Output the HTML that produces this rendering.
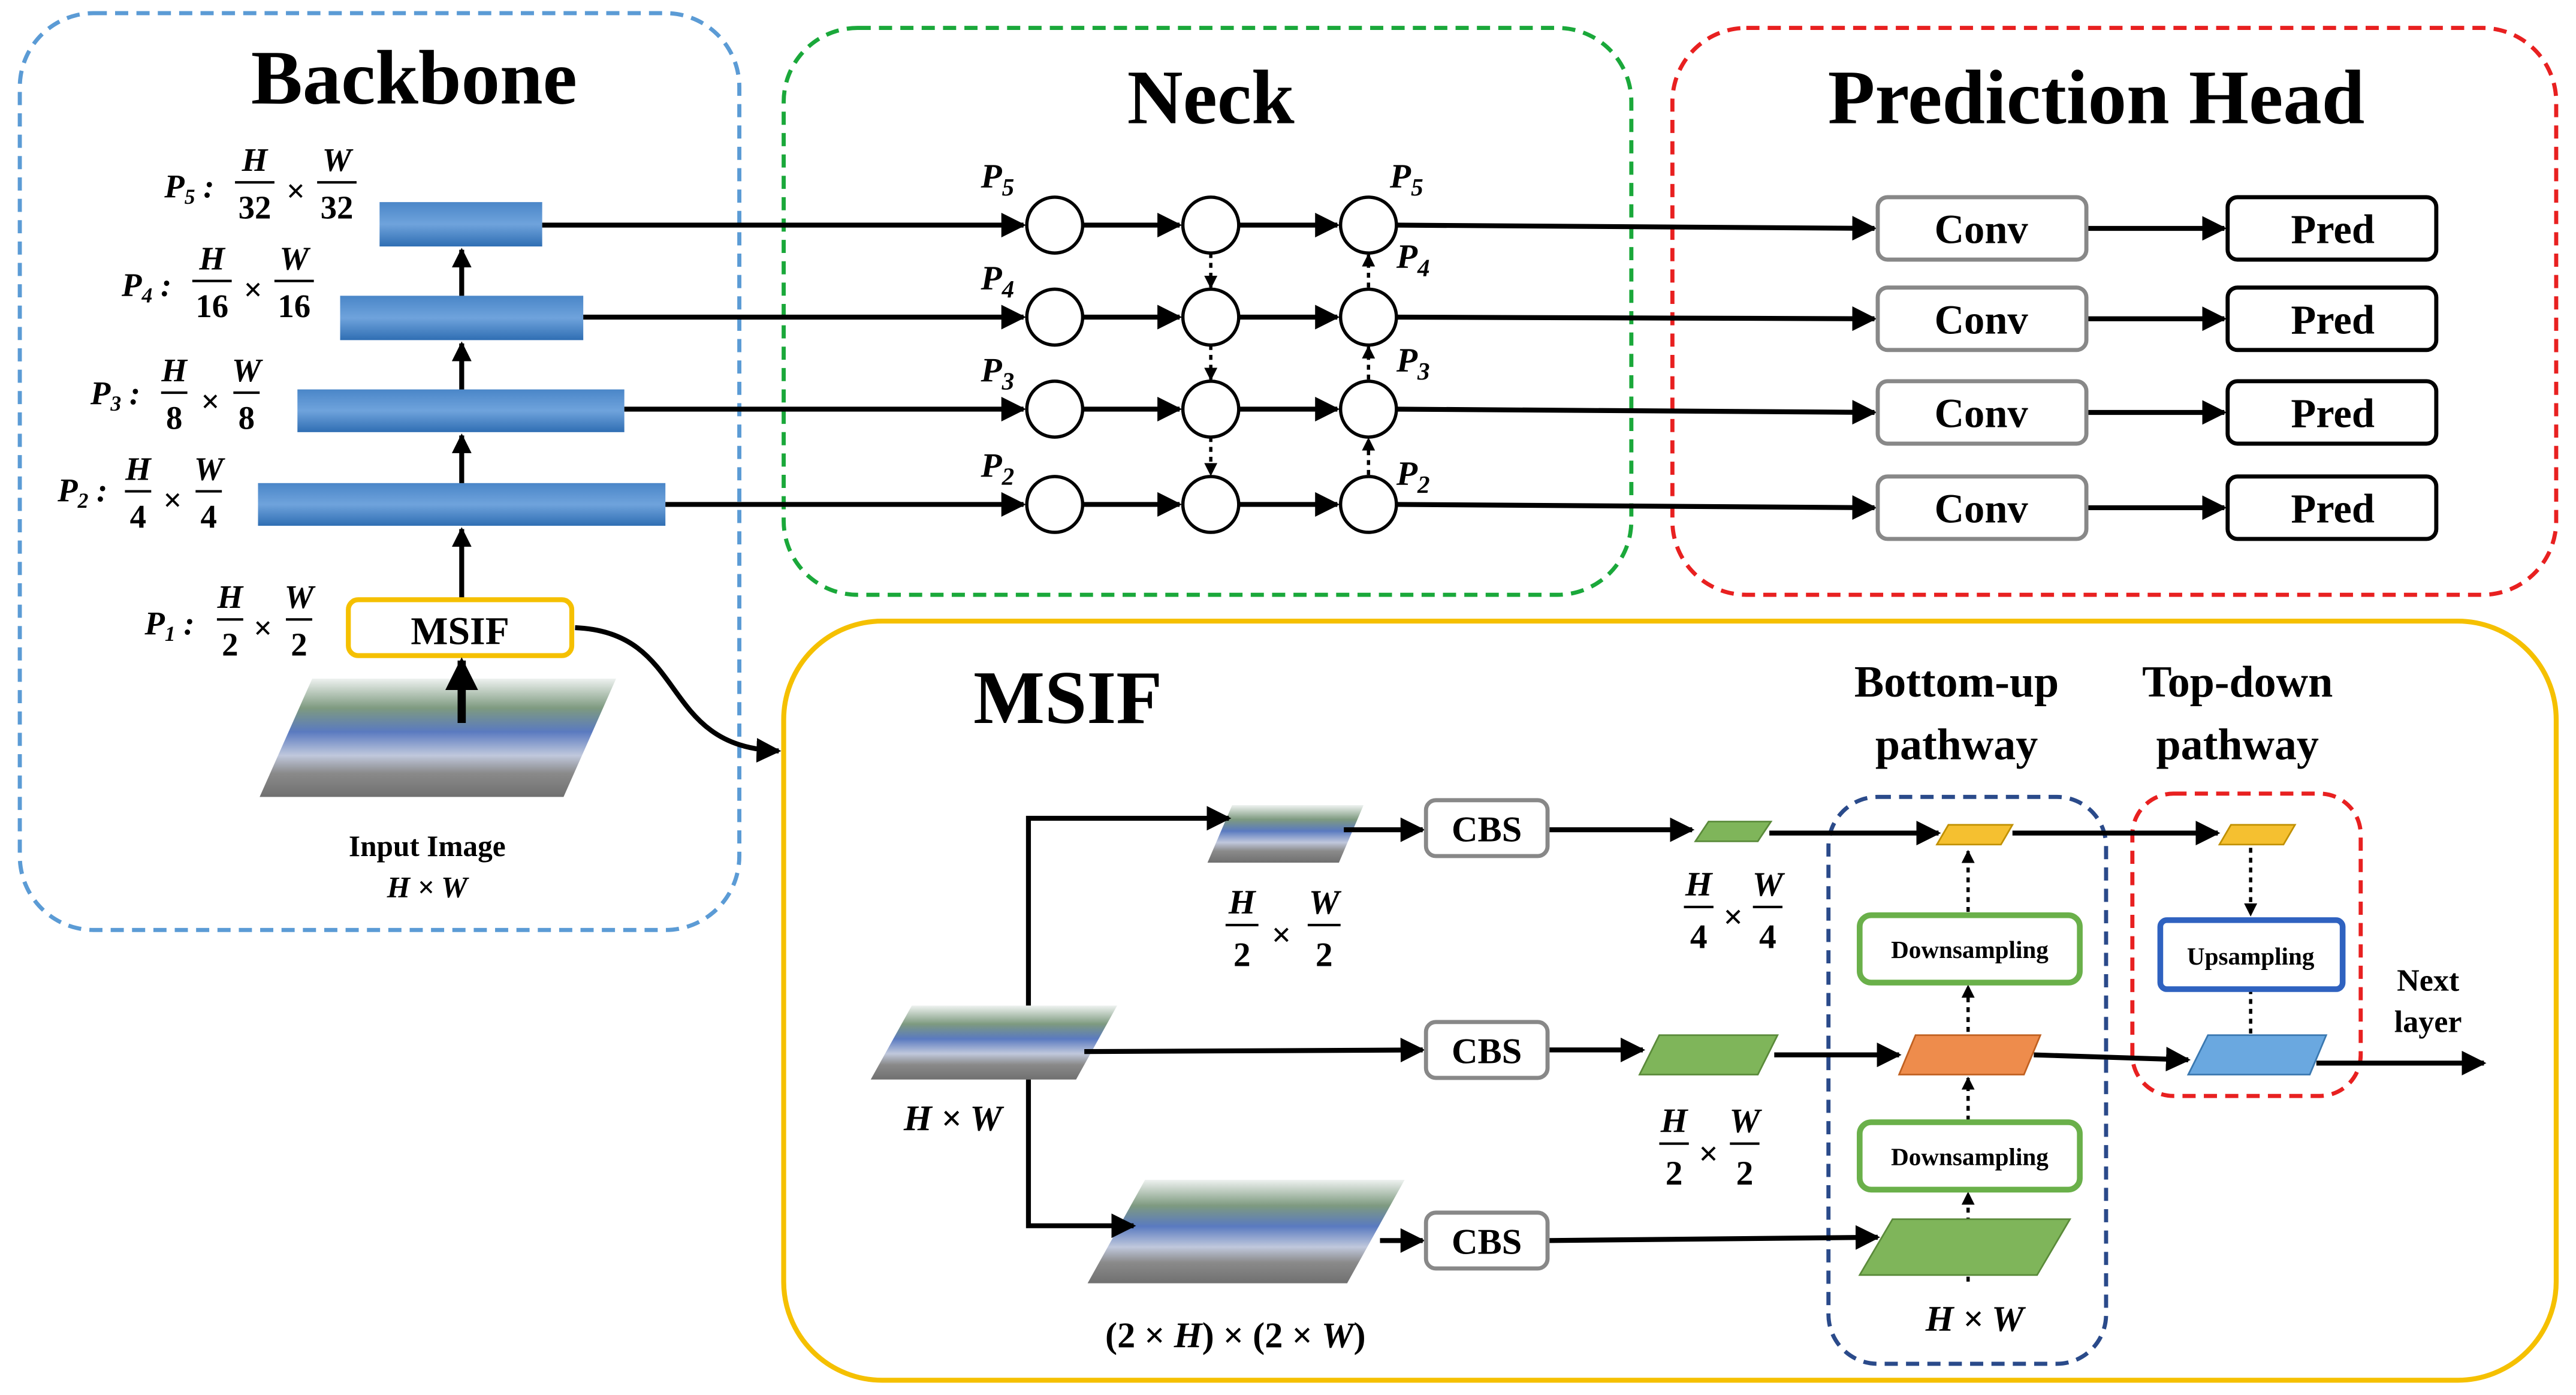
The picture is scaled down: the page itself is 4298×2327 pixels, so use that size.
<!DOCTYPE html>
<html><head><meta charset="utf-8"><style>html,body{margin:0;padding:0;background:#fff}svg{display:block}</style></head><body>
<svg width="4298" height="2327" viewBox="0 0 1568 849" xmlns="http://www.w3.org/2000/svg" font-family="Liberation Serif, serif" font-weight="bold">
<defs>
<marker id="a" viewBox="0 0 10 10" refX="9" refY="5" markerWidth="5" markerHeight="5" orient="auto"><path d="M0,0L10,5L0,10z" fill="#000"/></marker>
<marker id="s" viewBox="0 0 10 10" refX="9" refY="5" markerWidth="4" markerHeight="4" orient="auto"><path d="M0,0L10,5L0,10z" fill="#000"/></marker>
<linearGradient id="bb" x1="0" y1="0" x2="0" y2="1"><stop offset="0" stop-color="#4a86c8"/><stop offset="0.5" stop-color="#6fa3dc"/><stop offset="1" stop-color="#2f6eb3"/></linearGradient>
<linearGradient id="img" x1="0" y1="0" x2="0" y2="1"><stop offset="0" stop-color="#eef2f0"/><stop offset="0.25" stop-color="#7e9a80"/><stop offset="0.45" stop-color="#5a7ac0"/><stop offset="0.65" stop-color="#c0c8dc"/><stop offset="0.8" stop-color="#8a8a8a"/><stop offset="1" stop-color="#707070"/></linearGradient>
</defs>
<g fill="none" stroke-width="2.5" stroke-dasharray="8,5">
<rect x="12" y="8" width="438" height="558" rx="45" stroke="#5b9bd5"/>
<rect x="477" y="17" width="516" height="345" rx="45" stroke="#1aa83a"/>
<rect x="1018" y="17" width="538" height="345" rx="45" stroke="#e82020"/>
</g>
<rect x="477" y="378" width="1079" height="462" rx="60" fill="none" stroke="#f5c000" stroke-width="3"/>
<g font-size="47" text-anchor="middle">
<text x="252" y="63">Backbone</text><text x="737" y="75">Neck</text><text x="1276" y="75">Prediction Head</text>
<text x="650" y="440" font-size="46">MSIF</text>
</g>
<rect x="231" y="123" width="99" height="27" fill="url(#bb)"/>
<rect x="207" y="180" width="148" height="27" fill="url(#bb)"/>
<rect x="181" y="237" width="199" height="26" fill="url(#bb)"/>
<rect x="157" y="294" width="248" height="26" fill="url(#bb)"/>
<g stroke="#000" stroke-width="3" marker-end="url(#s)">
<line x1="281" y1="180" x2="281" y2="152"/><line x1="281" y1="237" x2="281" y2="209"/><line x1="281" y1="294" x2="281" y2="265"/><line x1="281" y1="365" x2="281" y2="322"/>
</g>
<rect x="212" y="365" width="136" height="34" rx="6" fill="#fff" stroke="#f5c000" stroke-width="3"/>
<text x="280" y="392" font-size="24" text-anchor="middle">MSIF</text>
<polygon points="190,413 375,413 343,485 158,485" fill="url(#img)"/>
<line x1="281" y1="440" x2="281" y2="402" stroke="#000" stroke-width="5" marker-end="url(#s)"/>
<text x="260" y="521" font-size="18" text-anchor="middle">Input Image</text>
<text x="260" y="546" font-size="18" text-anchor="middle" font-style="italic">H × W</text>
<path d="M350,382 C420,385 400,455 474,457" fill="none" stroke="#000" stroke-width="3" marker-end="url(#a)"/>
<g font-size="20" font-style="italic">
<text x="100" y="120">P<tspan font-size="13" dy="4">5</tspan><tspan dy="-4"> :</tspan></text>
<text x="74" y="180">P<tspan font-size="13" dy="4">4</tspan><tspan dy="-4"> :</tspan></text>
<text x="55" y="246">P<tspan font-size="13" dy="4">3</tspan><tspan dy="-4"> :</tspan></text>
<text x="35" y="305">P<tspan font-size="13" dy="4">2</tspan><tspan dy="-4"> :</tspan></text>
<text x="88" y="386">P<tspan font-size="13" dy="4">1</tspan><tspan dy="-4"> :</tspan></text>
</g>
<g font-size="20" text-anchor="middle" stroke="none">
<text x="155" y="104" font-style="italic">H</text><text x="155" y="133">32</text><text x="180" y="123">×</text><text x="205" y="104" font-style="italic">W</text><text x="205" y="133">32</text>
<text x="129" y="164" font-style="italic">H</text><text x="129" y="193">16</text><text x="154" y="183">×</text><text x="179" y="164" font-style="italic">W</text><text x="179" y="193">16</text>
<text x="106" y="232" font-style="italic">H</text><text x="106" y="261">8</text><text x="128" y="251">×</text><text x="150" y="232" font-style="italic">W</text><text x="150" y="261">8</text>
<text x="84" y="292" font-style="italic">H</text><text x="84" y="321">4</text><text x="105" y="311">×</text><text x="127" y="292" font-style="italic">W</text><text x="127" y="321">4</text>
<text x="140" y="370" font-style="italic">H</text><text x="140" y="399">2</text><text x="160" y="389">×</text><text x="182" y="370" font-style="italic">W</text><text x="182" y="399">2</text>
</g>
<g stroke="#000" stroke-width="1.5">
<line x1="143" y1="111" x2="167" y2="111"/><line x1="193" y1="111" x2="217" y2="111"/>
<line x1="117" y1="171" x2="141" y2="171"/><line x1="167" y1="171" x2="191" y2="171"/>
<line x1="98" y1="239" x2="114" y2="239"/><line x1="142" y1="239" x2="158" y2="239"/>
<line x1="76" y1="299" x2="92" y2="299"/><line x1="119" y1="299" x2="135" y2="299"/>
<line x1="132" y1="377" x2="148" y2="377"/><line x1="174" y1="377" x2="190" y2="377"/>
</g>
<g stroke="#000" stroke-width="3" fill="none">
<line x1="330" y1="137" x2="623" y2="137" marker-end="url(#a)"/>
<line x1="355" y1="193" x2="623" y2="193" marker-end="url(#a)"/>
<line x1="380" y1="249" x2="623" y2="249" marker-end="url(#a)"/>
<line x1="405" y1="307" x2="623" y2="307" marker-end="url(#a)"/>
<line x1="659" y1="137" x2="718" y2="137" marker-end="url(#a)"/><line x1="754" y1="137" x2="814" y2="137" marker-end="url(#a)"/>
<line x1="659" y1="193" x2="718" y2="193" marker-end="url(#a)"/><line x1="754" y1="193" x2="814" y2="193" marker-end="url(#a)"/>
<line x1="659" y1="249" x2="718" y2="249" marker-end="url(#a)"/><line x1="754" y1="249" x2="814" y2="249" marker-end="url(#a)"/>
<line x1="659" y1="307" x2="718" y2="307" marker-end="url(#a)"/><line x1="754" y1="307" x2="814" y2="307" marker-end="url(#a)"/>
<line x1="850" y1="137" x2="1141" y2="139" marker-end="url(#a)"/>
<line x1="850" y1="193" x2="1141" y2="194" marker-end="url(#a)"/>
<line x1="850" y1="249" x2="1141" y2="251" marker-end="url(#a)"/>
<line x1="850" y1="307" x2="1141" y2="309" marker-end="url(#a)"/>
<g stroke-dasharray="3,3" stroke-width="2">
<line x1="737" y1="154" x2="737" y2="175" marker-end="url(#s)"/><line x1="737" y1="210" x2="737" y2="231" marker-end="url(#s)"/><line x1="737" y1="266" x2="737" y2="289" marker-end="url(#s)"/>
<line x1="833" y1="175" x2="833" y2="155" marker-end="url(#s)"/><line x1="833" y1="231" x2="833" y2="211" marker-end="url(#s)"/><line x1="833" y1="289" x2="833" y2="267" marker-end="url(#s)"/>
</g>
<line x1="1270" y1="139" x2="1354" y2="139" marker-end="url(#a)"/>
<line x1="1270" y1="194" x2="1354" y2="194" marker-end="url(#a)"/>
<line x1="1270" y1="251" x2="1354" y2="251" marker-end="url(#a)"/>
<line x1="1270" y1="309" x2="1354" y2="309" marker-end="url(#a)"/>
</g>
<g fill="#fff" stroke="#000" stroke-width="2">
<circle cx="642" cy="137" r="17"/><circle cx="737" cy="137" r="17"/><circle cx="833" cy="137" r="17"/>
<circle cx="642" cy="193" r="17"/><circle cx="737" cy="193" r="17"/><circle cx="833" cy="193" r="17"/>
<circle cx="642" cy="249" r="17"/><circle cx="737" cy="249" r="17"/><circle cx="833" cy="249" r="17"/>
<circle cx="642" cy="307" r="17"/><circle cx="737" cy="307" r="17"/><circle cx="833" cy="307" r="17"/>
</g>
<g font-size="21" font-style="italic">
<text x="597" y="114">P<tspan font-size="15" dy="5">5</tspan></text><text x="597" y="176">P<tspan font-size="15" dy="5">4</tspan></text>
<text x="597" y="232">P<tspan font-size="15" dy="5">3</tspan></text><text x="597" y="290">P<tspan font-size="15" dy="5">2</tspan></text>
<text x="846" y="114">P<tspan font-size="15" dy="5">5</tspan></text><text x="850" y="163">P<tspan font-size="15" dy="5">4</tspan></text>
<text x="850" y="226">P<tspan font-size="15" dy="5">3</tspan></text><text x="850" y="295">P<tspan font-size="15" dy="5">2</tspan></text>
</g>
<g fill="#fff" stroke-width="2.5">
<rect x="1143" y="120" width="127" height="38" rx="6" stroke="#888"/><rect x="1143" y="175" width="127" height="38" rx="6" stroke="#888"/>
<rect x="1143" y="232" width="127" height="38" rx="6" stroke="#888"/><rect x="1143" y="290" width="127" height="38" rx="6" stroke="#888"/>
<rect x="1356" y="120" width="127" height="38" rx="6" stroke="#000"/><rect x="1356" y="175" width="127" height="38" rx="6" stroke="#000"/>
<rect x="1356" y="232" width="127" height="38" rx="6" stroke="#000"/><rect x="1356" y="290" width="127" height="38" rx="6" stroke="#000"/>
</g>
<g font-size="25" text-anchor="middle">
<text x="1206" y="148">Conv</text><text x="1206" y="203">Conv</text><text x="1206" y="260">Conv</text><text x="1206" y="318">Conv</text>
<text x="1420" y="148">Pred</text><text x="1420" y="203">Pred</text><text x="1420" y="260">Pred</text><text x="1420" y="318">Pred</text>
</g>
<g fill="none" stroke-width="2.5" stroke-dasharray="8,5">
<rect x="1113" y="485" width="169" height="345" rx="30" stroke="#2a4a8a"/>
<rect x="1298" y="483" width="139" height="184" rx="25" stroke="#e82020"/>
</g>
<g font-size="27" text-anchor="middle"><text x="1191" y="424">Bottom-up</text><text x="1191" y="462">pathway</text><text x="1362" y="424">Top-down</text><text x="1362" y="462">pathway</text></g>
<polygon points="750,490 830,490 815,525 735,525" fill="url(#img)"/>
<polygon points="555,612 680,612 655,657 530,657" fill="url(#img)"/>
<polygon points="697,718 855,718 820,781 662,781" fill="url(#img)"/>
<g stroke="#000" stroke-width="3" fill="none">
<polyline points="626,612 626,498 748,498" marker-end="url(#a)"/>
<polyline points="626,657 626,746 690,746" marker-end="url(#a)"/>
<line x1="660" y1="640" x2="866" y2="639" marker-end="url(#a)"/>
<line x1="818" y1="505" x2="866" y2="505" marker-end="url(#a)"/>
<line x1="840" y1="755" x2="866" y2="755" marker-end="url(#a)"/>
<line x1="942" y1="505" x2="1030" y2="505" marker-end="url(#a)"/>
<line x1="942" y1="639" x2="1000" y2="639" marker-end="url(#a)"/>
<line x1="942" y1="755" x2="1143" y2="753" marker-end="url(#a)"/>
<line x1="1077" y1="507" x2="1180" y2="507" marker-end="url(#a)"/>
<line x1="1080" y1="642" x2="1156" y2="642" marker-end="url(#a)"/>
<line x1="1225" y1="507" x2="1350" y2="507" marker-end="url(#a)"/>
<line x1="1238" y1="642" x2="1332" y2="645" marker-end="url(#a)"/>
<line x1="1410" y1="647" x2="1512" y2="647" marker-end="url(#a)"/>
<g stroke-dasharray="3,3" stroke-width="2">
<line x1="1198" y1="555" x2="1198" y2="518" marker-end="url(#s)"/>
<line x1="1198" y1="628" x2="1198" y2="600" marker-end="url(#s)"/>
<line x1="1198" y1="682" x2="1198" y2="656" marker-end="url(#s)"/>
<line x1="1198" y1="780" x2="1198" y2="726" marker-end="url(#s)"/>
<line x1="1370" y1="516" x2="1370" y2="557" marker-end="url(#s)"/>
<line x1="1370" y1="602" x2="1370" y2="640" marker-end="url(#s)"/>
</g>
</g>
<g fill="#fff" stroke="#888" stroke-width="2.5">
<rect x="868" y="487" width="74" height="34" rx="6"/><rect x="868" y="622" width="74" height="34" rx="6"/><rect x="868" y="738" width="74" height="34" rx="6"/>
</g>
<g font-size="22" text-anchor="middle"><text x="905" y="512">CBS</text><text x="905" y="647">CBS</text><text x="905" y="763">CBS</text></g>
<polygon points="1040,500 1078,500 1070,512 1032,512" fill="#7fb55a" stroke="#5a8a3a"/>
<polygon points="1010,630 1082,630 1070,654 998,654" fill="#7fb55a" stroke="#5a8a3a"/>
<polygon points="1152,742 1260,742 1240,776 1132,776" fill="#7fb55a" stroke="#5a8a3a"/>
<polygon points="1186,502 1225,502 1218,514 1179,514" fill="#f5c030" stroke="#c09000"/>
<polygon points="1358,502 1397,502 1390,514 1351,514" fill="#f5c030" stroke="#c09000"/>
<polygon points="1166,630 1242,630 1232,654 1156,654" fill="#ee8c4c" stroke="#c06020"/>
<polygon points="1344,630 1416,630 1406,654 1332,654" fill="#6aa8e0" stroke="#3a78b0"/>
<g fill="#fff" stroke-width="3.5">
<rect x="1132" y="557" width="134" height="41" rx="7" stroke="#6ab04a"/>
<rect x="1132" y="683" width="134" height="41" rx="7" stroke="#6ab04a"/>
<rect x="1315" y="560" width="111" height="42" rx="4" stroke="#2f62c0"/>
</g>
<g font-size="15" text-anchor="middle"><text x="1199" y="583">Downsampling</text><text x="1199" y="709">Downsampling</text><text x="1370" y="587">Upsampling</text></g>
<g font-size="19" text-anchor="middle"><text x="1478" y="603">Next</text><text x="1478" y="628">layer</text></g>
<g font-size="22" text-anchor="middle" font-style="italic">
<text x="580" y="688">H × W</text><text x="1202" y="810">H × W</text>
<text x="752" y="820" font-style="normal">(2 × <tspan font-style="italic">H</tspan>) × (2 × <tspan font-style="italic">W</tspan>)</text>
</g>
<g font-size="21" text-anchor="middle">
<text x="756" y="556" font-style="italic">H</text><text x="756" y="588">2</text><text x="780" y="576">×</text><text x="806" y="556" font-style="italic">W</text><text x="806" y="588">2</text>
<text x="1034" y="545" font-style="italic">H</text><text x="1034" y="577">4</text><text x="1055" y="565">×</text><text x="1076" y="545" font-style="italic">W</text><text x="1076" y="577">4</text>
<text x="1019" y="689" font-style="italic">H</text><text x="1019" y="721">2</text><text x="1040" y="709">×</text><text x="1062" y="689" font-style="italic">W</text><text x="1062" y="721">2</text>
</g>
<g stroke="#000" stroke-width="1.5">
<line x1="746" y1="563" x2="766" y2="563"/><line x1="796" y1="563" x2="816" y2="563"/>
<line x1="1025" y1="552" x2="1043" y2="552"/><line x1="1067" y1="552" x2="1085" y2="552"/>
<line x1="1010" y1="696" x2="1028" y2="696"/><line x1="1053" y1="696" x2="1071" y2="696"/>
</g>
</svg>
</body></html>
